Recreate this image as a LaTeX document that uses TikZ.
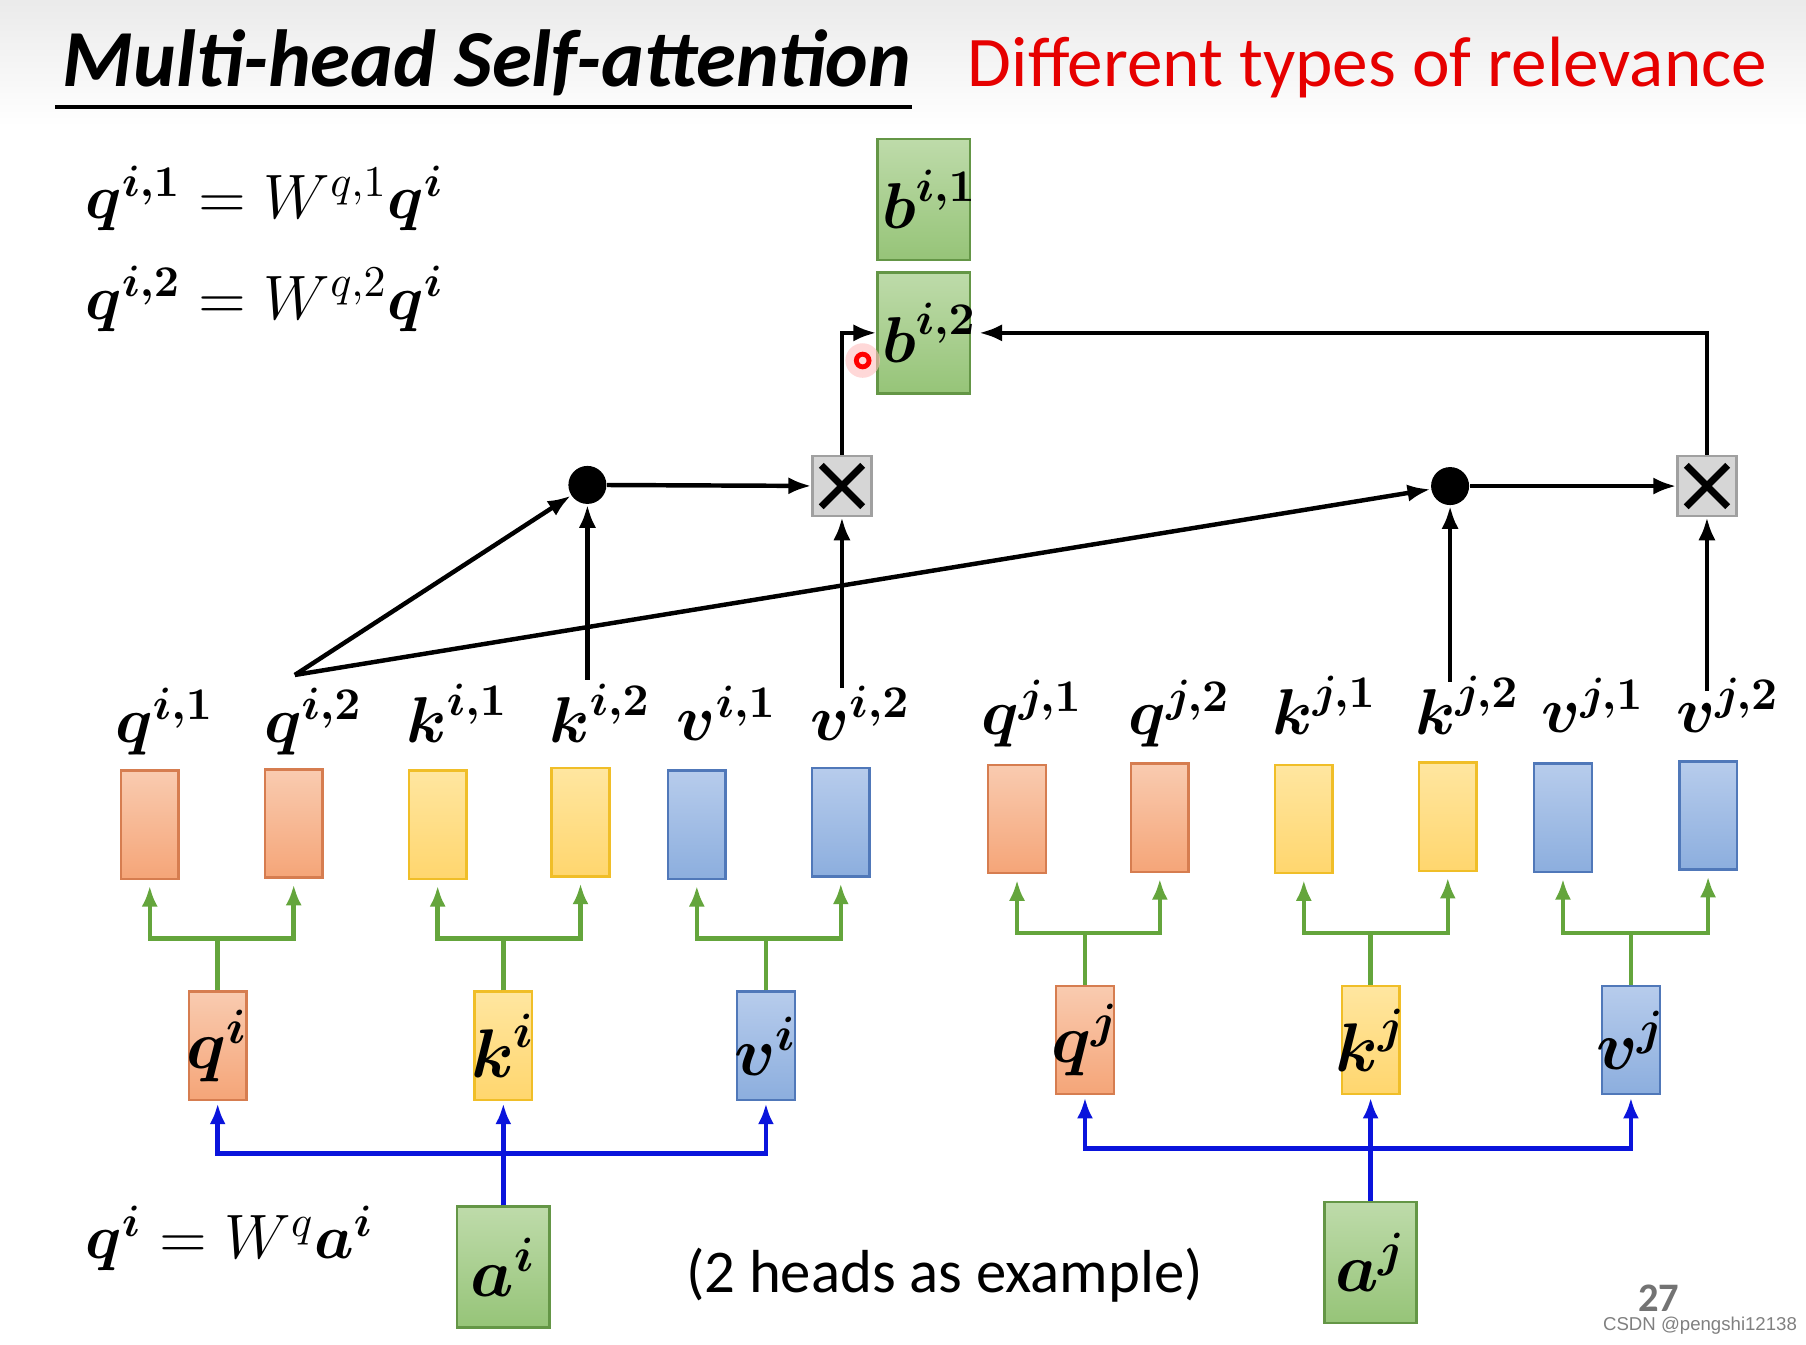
\RequirePackage{fix-cm}
\documentclass[tikz,border=0pt]{standalone}
\usepackage{amsmath}
\usepackage{amssymb}
\usepackage{fontspec}
\usetikzlibrary{arrows.meta}
\newfontfamily\calib{Carlito}
\newfontfamily\wmfont{Liberation Sans}
\definecolor{qtop}{RGB}{249,203,176}
\definecolor{qbot}{RGB}{245,165,120}
\definecolor{qedge}{RGB}{214,125,80}
\definecolor{ktop}{RGB}{255,230,160}
\definecolor{kbot}{RGB}{255,214,110}
\definecolor{kedge}{RGB}{240,190,40}
\definecolor{vtop}{RGB}{183,204,236}
\definecolor{vbot}{RGB}{140,174,222}
\definecolor{vedge}{RGB}{80,120,185}
\definecolor{gtop}{RGB}{190,219,170}
\definecolor{gbot}{RGB}{150,196,120}
\definecolor{gedge}{RGB}{100,150,70}
\definecolor{grline}{RGB}{100,165,60}
\definecolor{blline}{RGB}{10,20,220}
\definecolor{xfill}{RGB}{214,214,214}
\definecolor{xedge}{RGB}{160,160,160}
\definecolor{slidered}{RGB}{230,0,0}
\newcommand{\bv}[1]{\boldsymbol{#1}}

\begin{document}
\begin{tikzpicture}[x=0.1mm, y=-0.1mm,
    vec/.style={minimum width=5mm, minimum height=9.4mm, inner sep=0pt, line width=0.6pt,
      font=\fontsize{17}{17}\selectfont},
    qvec/.style={vec, draw=qedge, top color=qtop, bottom color=qbot},
    kvec/.style={vec, draw=kedge, top color=ktop, bottom color=kbot},
    vvec/.style={vec, draw=vedge, top color=vtop, bottom color=vbot},
    gvec/.style={vec, draw=gedge, top color=gtop, bottom color=gbot,
      minimum width=8mm, minimum height=10.5mm},
    lbl/.style={anchor=base, font=\fontsize{16}{16}\selectfont},
    eqn/.style={anchor=base west, font=\fontsize{15.5}{15.5}\selectfont},
    dotnode/.style={circle, fill, inner sep=0pt, minimum size=3.3mm},
    mult/.style={draw=xedge, fill=xfill, minimum width=5.1mm, minimum height=5.2mm,
      inner sep=0pt, line width=0.6pt,
      path picture={
        \draw[black, line width=1.7pt] ([shift={(-1.8mm,-1.8mm)}]path picture bounding box.center)
          -- ([shift={(1.8mm,1.8mm)}]path picture bounding box.center);
        \draw[black, line width=1.7pt] ([shift={(-1.8mm,1.8mm)}]path picture bounding box.center)
          -- ([shift={(1.8mm,-1.8mm)}]path picture bounding box.center);}},
    arr/.style={line width=1.1pt, -{Latex[length=2mm, width=1.5mm]}},
    grnarr/.style={draw=grline, line width=1.1pt, -{Latex[length=1.8mm, width=1.4mm]}, shorten >=0.5mm},
    bluarr/.style={draw=blline, line width=1.2pt, -{Latex[length=1.8mm, width=1.4mm]}, shorten >=0.2mm}]
  \useasboundingbox (0,0) rectangle (1568,1167);
  \fill[white] (0,0) rectangle (1568,1167);
  \shade[top color=black!8, bottom color=white] (0,0) rectangle (1568,110);

  \node[anchor=base west, font=\calib\bfseries\itshape\fontsize{20}{20}\selectfont] (title) at (42,75) {Multi-head Self-attention};
  \draw[line width=0.9pt] (48,93) -- (792,93);
  \node[anchor=base west, text=slidered, font=\calib\fontsize{17.6}{17.6}\selectfont] (subtitle) at (828,75) {Different types of relevance};

  \node[eqn] (eq1) at (62,190) {$\bv q^{\bv{i,1}} = W^{q,1}\bv q^{\bv i}$};
  \node[eqn] (eq2) at (62,277) {$\bv q^{\bv{i,2}} = W^{q,2}\bv q^{\bv i}$};
  \node[eqn] (eq3) at (62,1093) {$\bv q^{\bv i} = W^{q}\bv a^{\bv i}$};

  \node[gvec, font=\fontsize{16}{16}\selectfont] (bi1) at (802,173) {\makebox[0pt]{\hspace{1mm}$\bv b^{\bv{i,1}}$}};
  \node[gvec, font=\fontsize{16}{16}\selectfont] (bi2) at (802,289) {\makebox[0pt]{\hspace{1mm}$\bv b^{\bv{i,2}}$}};

  \node[dotnode] (dot1) at (510,421) {};
  \node[dotnode] (dot2) at (1259,422) {};
  \node[mult] (x1) at (731,422) {};
  \node[mult] (x2) at (1482,422) {};

  \node[qvec] (qi1) at (130,716) {};
  \node[qvec] (qi2) at (255,715) {};
  \node[kvec] (ki1) at (380,716) {};
  \node[kvec] (ki2) at (504,714) {};
  \node[vvec] (vi1) at (605,716) {};
  \node[vvec] (vi2) at (730,714) {};
  \node[qvec] (qj1) at (883,711) {};
  \node[qvec] (qj2) at (1007,710) {};
  \node[kvec] (kj1) at (1132,711) {};
  \node[kvec] (kj2) at (1257,709) {};
  \node[vvec] (vj1) at (1357,710) {};
  \node[vvec] (vj2) at (1483,708) {};

  \node[lbl] (lqi1) at (143,645) {$\bv q^{\bv{i,1}}$};
  \node[lbl] (lqi2) at (272,645) {$\bv q^{\bv{i,2}}$};
  \node[lbl] (lki1) at (397,645) {$\bv k^{\bv{i,1}}$};
  \node[lbl] (lki2) at (521,645) {$\bv k^{\bv{i,2}}$};
  \node[lbl] (lvi1) at (631,643) {$\bv v^{\bv{i,1}}$};
  \node[lbl] (lvi2) at (747,643) {$\bv v^{\bv{i,2}}$};
  \node[lbl] (lqj1) at (896,638) {$\bv q^{\bv{j,1}}$};
  \node[lbl] (lqj2) at (1024,638) {$\bv q^{\bv{j,2}}$};
  \node[lbl] (lkj1) at (1150,638) {$\bv k^{\bv{j,1}}$};
  \node[lbl] (lkj2) at (1274,638) {$\bv k^{\bv{j,2}}$};
  \node[lbl] (lvj1) at (1383,636) {$\bv v^{\bv{j,1}}$};
  \node[lbl] (lvj2) at (1500,636) {$\bv v^{\bv{j,2}}$};

  \node[qvec] (qi) at (189,908) {\makebox[0pt]{$\bv q^{\bv i}$}};
  \node[kvec] (ki) at (437,908) {\makebox[0pt]{$\bv k^{\bv i}$}};
  \node[vvec] (vi) at (665,908) {\makebox[0pt]{$\bv v^{\bv i}$}};
  \node[qvec] (qj) at (942,903) {\makebox[0pt]{$\bv q^{\bv j}$}};
  \node[kvec] (kj) at (1190,903) {\makebox[0pt]{$\bv k^{\bv j}$}};
  \node[vvec] (vj) at (1416,903) {\makebox[0pt]{$\bv v^{\bv j}$}};

  \node[gvec] (ai) at (437,1100) {\makebox[0pt]{$\bv a^{\bv i}$}};
  \node[gvec] (aj) at (1190,1096) {\makebox[0pt]{$\bv a^{\bv j}$}};

  \node[font=\calib\fontsize{15}{15}\selectfont] (note) at (820,1107) {(2 heads as example)};
  \node[text=black!55, font=\calib\bfseries\fontsize{10}{10}\selectfont] (pagenum) at (1440,1127) {27};
  \node[text=black!50, font=\wmfont\fontsize{4.6}{4.6}\selectfont] (wmark) at (1476,1151) {CSDN @pengshi12138};

  \draw[grnarr] (qi.north) -- ++(0,-45) -| (qi1);
  \draw[grnarr] (qi.north) -- ++(0,-45) -| (qi2);
  \draw[grnarr] (ki.north) -- ++(0,-45) -| (ki1);
  \draw[grnarr] (ki.north) -- ++(0,-45) -| (ki2);
  \draw[grnarr] (vi.north) -- ++(0,-45) -| (vi1);
  \draw[grnarr] (vi.north) -- ++(0,-45) -| (vi2);
  \draw[grnarr] (qj.north) -- ++(0,-45) -| (qj1);
  \draw[grnarr] (qj.north) -- ++(0,-45) -| (qj2);
  \draw[grnarr] (kj.north) -- ++(0,-45) -| (kj1);
  \draw[grnarr] (kj.north) -- ++(0,-45) -| (kj2);
  \draw[grnarr] (vj.north) -- ++(0,-45) -| (vj1);
  \draw[grnarr] (vj.north) -- ++(0,-45) -| (vj2);

  \draw[bluarr] (ai.north) -- ++(0,-45) -| (qi);
  \draw[bluarr] (ai) -- (ki);
  \draw[bluarr] (ai.north) -- ++(0,-45) -| (vi);
  \draw[bluarr] (aj.north) -- ++(0,-45) -| (qj);
  \draw[bluarr] (aj) -- (kj);
  \draw[bluarr] (aj.north) -- ++(0,-45) -| (vj);

  \coordinate (qi2top) at (256,586);
  \coordinate (ki2top) at (510,590);
  \coordinate (vi2top) at (731,597);
  \coordinate (kj2top) at (1259,592);
  \coordinate (vj2top) at (1482,600);
  \draw[arr] (qi2top) -- (dot1);
  \draw[arr] (qi2top) -- (dot2);
  \draw[arr] (ki2top) -- (dot1);
  \draw[arr] (vi2top) -- (x1);
  \draw[arr] (kj2top) -- (dot2);
  \draw[arr] (vj2top) -- (x2);
  \draw[arr] (dot1) -- (x1);
  \draw[arr] (dot2) -- (x2);
  \draw[arr] (x1.north) |- (bi2.west);
  \draw[arr, shorten >=0.7mm] (x2.north) |- (bi2.east);

  \fill[red!25, opacity=0.6] (749,313) circle (1.5mm);
  \draw[red, line width=1.2pt] (749,313) circle (0.55mm);
\end{tikzpicture}
\end{document}
